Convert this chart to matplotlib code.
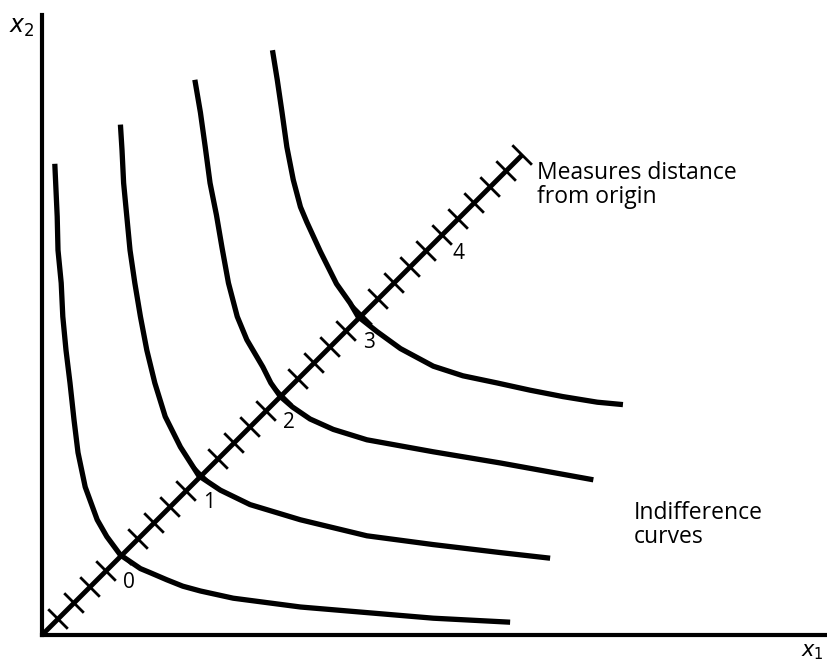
import numpy as np
import matplotlib.pyplot as plt

# Courbes d'indifférence (unités : 1 = un pas de la diagonale)
curve0_x = [0.16, 0.19, 0.20, 0.24, 0.26, 0.30, 0.35, 0.40, 0.45, 0.54, 0.69, 0.81,
            0.98, 1.23, 1.35, 1.56, 1.76, 1.98, 2.39, 3.23, 4.06, 4.89, 5.85]
curve0_y = [5.89, 5.23, 4.81, 4.40, 3.98, 3.56, 3.15, 2.69, 2.28, 1.85, 1.44, 1.23,
            1.00, 0.83, 0.78, 0.69, 0.61, 0.55, 0.46, 0.35, 0.28, 0.21, 0.16]

curve1_x = [0.98, 1.00, 1.02, 1.06, 1.10, 1.16, 1.23, 1.31, 1.41, 1.54, 1.73,
            1.96, 2.23, 2.60, 3.23, 4.06, 4.89, 5.73, 6.35]
curve1_y = [6.38, 6.06, 5.65, 5.23, 4.81, 4.40, 3.98, 3.56, 3.15, 2.73, 2.35,
            1.99, 1.81, 1.63, 1.44, 1.24, 1.13, 1.03, 0.96]

curve2_x = [1.91, 1.98, 2.04, 2.10, 2.18, 2.25, 2.33, 2.44, 2.56, 2.76, 2.86,
            2.98, 3.13, 3.35, 3.64, 4.06, 4.89, 5.73, 6.89]
curve2_y = [6.94, 6.53, 6.10, 5.65, 5.25, 4.84, 4.40, 3.98, 3.69, 3.35, 3.15,
            2.98, 2.85, 2.70, 2.57, 2.44, 2.29, 2.15, 1.94]

curve3_x = [2.88, 2.94, 3.00, 3.06, 3.14, 3.23, 3.31, 3.48, 3.68, 3.85, 3.95,
            4.19, 4.48, 4.89, 5.26, 5.69, 6.10, 6.51, 6.94, 7.26]
curve3_y = [7.31, 6.94, 6.53, 6.10, 5.69, 5.35, 5.16, 4.79, 4.39, 4.15, 3.98,
            3.79, 3.58, 3.36, 3.24, 3.15, 3.06, 2.98, 2.91, 2.88]

curves = [(curve0_x, curve0_y), (curve1_x, curve1_y),
          (curve2_x, curve2_y), (curve3_x, curve3_y)]

# Diagonale graduée
diag_end = 6.0
diag_step = 0.2
diag_labels = ['0', '1', '2', '3', '4']
diag_label_pos = [1, 2, 3, 4, 5]

plt.rcParams['font.family'] = ['Open Sans', 'DejaVu Sans']

fig = plt.figure(figsize=(8.27, 6.66), dpi=100)
ax = fig.add_axes([42 / 827, 31 / 666, 785 / 827, 620 / 666])
ax.set_xlim(0, 9.81)
ax.set_ylim(0, 7.75)

for s in ['top', 'right']:
    ax.spines[s].set_visible(False)
for s in ['left', 'bottom']:
    ax.spines[s].set_linewidth(3)
ax.set_xticks([])
ax.set_yticks([])

for cx, cy in curves:
    ax.plot(cx, cy, color='black', lw=3.8, solid_capstyle='butt',
            solid_joinstyle='round')

ax.plot([0, diag_end], [0, diag_end], color='black', lw=3.5, solid_capstyle='butt')

h = 0.11
for t in np.arange(diag_step, diag_end + 1e-9, diag_step):
    ax.plot([t - h, t + h], [t + h, t - h], color='black', lw=2, clip_on=False)

for lab, p in zip(diag_labels, diag_label_pos):
    off = (12, -13) if lab == '4' else (5, -20)
    ax.annotate(lab, (p, p), xytext=off, textcoords='offset points',
                ha='center', va='center', fontsize=15)

ax.text(6.18, 5.93, 'Measures distance\nfrom origin', ha='left', va='top',
        fontsize=16.5, linespacing=1.0)
ax.text(7.39, 1.68, 'Indifference\ncurves', ha='left', va='top',
        fontsize=16.5, linespacing=1.0)

fig.text(22 / 827, 1 - 27 / 666, '$x_2$', ha='center', va='center', fontsize=17)
fig.text(812 / 827, 1 - 652 / 666, '$x_1$', ha='center', va='center', fontsize=15)

plt.savefig('out.png', dpi=100)
